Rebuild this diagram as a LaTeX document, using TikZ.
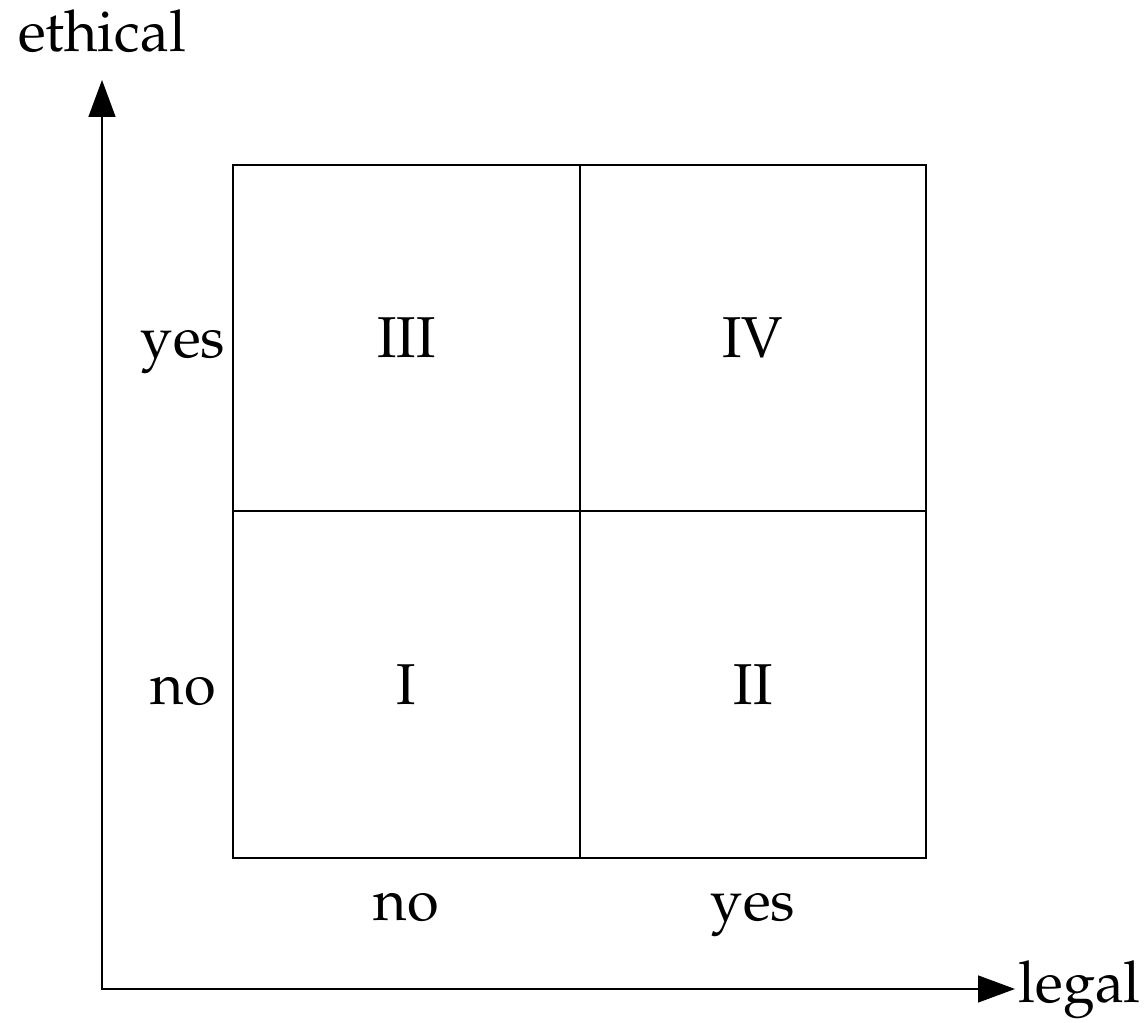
\documentclass[tikz,border=0pt]{standalone}
\usepackage[T1]{fontenc}
\usepackage{mathpazo}
\usepackage{tikz}
\usetikzlibrary{arrows.meta}

\begin{document}
\begin{tikzpicture}[font=\fontsize{16.4}{20}\selectfont,
	every node/.style={anchor=base,inner sep=0pt},
	axis/.style={{Triangle[length=0.37cm,width=0.27cm]}-{Triangle[length=0.37cm,width=0.27cm]}}]
		\useasboundingbox (0,0) rectangle (11.46,10.23);
		% axes
		\coordinate (O) at (1.02,0.34);
		\coordinate (Y) at (1.02,9.43);
		\coordinate (X) at (10.15,0.34);
		% box corners and middle
		\coordinate (SW) at (2.33,1.65);
		\coordinate (NE) at (9.26,8.58);
		\coordinate (S) at (5.80,1.65);
		\coordinate (N) at (5.80,8.58);
		\coordinate (W) at (2.33,5.12);
		\coordinate (E) at (9.26,5.12);
		%
		\node (ethical) at (1.02,9.71) {ethical};
		\node[anchor=base west] (legal) at (10.18,0.20) {legal};
		\node (I) at (4.065,3.185) {I};
		\node (II) at (7.53,3.185) {II};
		\node (III) at (4.065,6.65) {III};
		\node (IV) at (7.53,6.65) {IV};
		\node (eyes) at (1.83,6.65) {yes};
		\node (eno) at (1.83,3.185) {no};
		\node (lno) at (4.065,1.02) {no};
		\node (lyes) at (7.53,1.02) {yes};
		%
		\draw[axis] (Y) -- (O) -- (X);
		\draw (SW) rectangle (NE);
		\draw (S) -- (N);
		\draw (W) -- (E);
	\end{tikzpicture}
\end{document}
